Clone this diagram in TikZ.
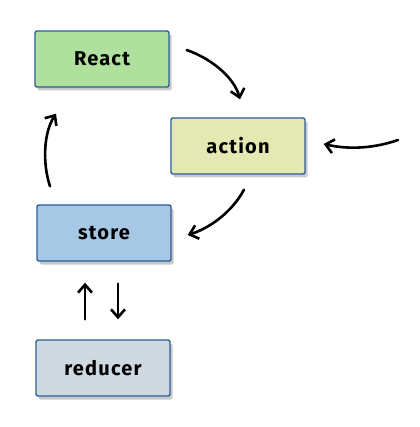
\documentclass[tikz,border=0pt]{standalone}
\usepackage{fontspec}
\setmainfont{Fira Sans}[LetterSpace=6]
\usetikzlibrary{arrows.meta,shadows}
\definecolor{boxline}{HTML}{2C5E99}
\definecolor{reactfill}{HTML}{B0E09E}
\definecolor{actionfill}{HTML}{E4E9B4}
\definecolor{storefill}{HTML}{A6C8E4}
\definecolor{reducerfill}{HTML}{CFD9E2}
\tikzset{
  box/.style={draw=boxline, line width=1.4pt, rounded corners=2pt,
    minimum width=134pt, minimum height=56pt, inner sep=0pt,
    font=\fontsize{20}{24}\selectfont\bfseries,
    drop shadow={shadow xshift=2.5pt, shadow yshift=-3.5pt, opacity=0.35, fill=black!60}},
  flow/.style={line width=2.6pt, line cap=round, -{Straight Barb[length=8pt,width=14pt,line width=2.6pt]}}
}
\begin{document}
\begin{tikzpicture}[x=1pt,y=-1pt]
\useasboundingbox[fill=white] (0,0) rectangle (419,427);
\node[box, fill=reactfill] (react) at (102,59) {React};
\node[box, fill=actionfill] (action) at (238,146) {action};
\node[box, fill=storefill] (store) at (104,233) {store};
\node[box, fill=reducerfill] (reducer) at (103,368) {reducer};
\coordinate (ext) at (398,140);
\draw[flow] ([shift={(17,-9)}]react.east) .. controls (215,60) and (235,80) .. ([shift={(2,-18)}]action.north);
\draw[flow] (ext) .. controls (375,148) and (350,150) .. ([shift={(18,-2)}]action.east);
\draw[flow] ([shift={(6,15)}]action.south) .. controls (232,212) and (210,228) .. ([shift={(16,2)}]store.east);
\draw[flow] ([shift={(-54,-18)}]store.north) .. controls (42,162) and (44,132) .. ([shift={(-46,26)}]react.south);
\draw[flow] ([shift={(-18,-20)}]reducer.north) -- ([shift={(-19,21)}]store.south);
\draw[flow] ([shift={(14,22)}]store.south) -- ([shift={(15,-20)}]reducer.north);
\end{tikzpicture}
\end{document}
